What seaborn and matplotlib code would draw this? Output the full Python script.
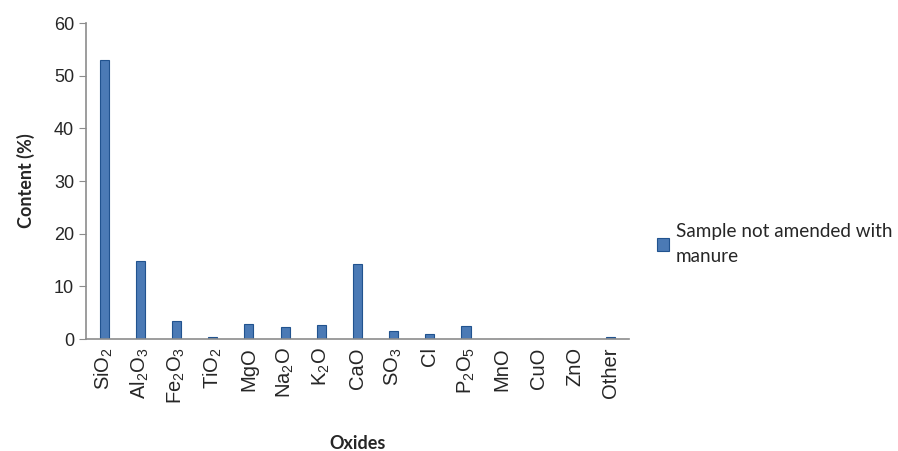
import numpy as np
import pandas as pd
import matplotlib
matplotlib.use("Agg")
import matplotlib.pyplot as plt
import seaborn as sns

oxides = ["SiO2", "Al2O3", "Fe2O3", "TiO2", "MgO", "Na2O", "K2O", "CaO",
          "SO3", "Cl", "P2O5", "MnO", "CuO", "ZnO", "Other"]
tick_labels = [r"SiO$_2$", r"Al$_2$O$_3$", r"Fe$_2$O$_3$", r"TiO$_2$", "MgO",
               r"Na$_2$O", r"K$_2$O", "CaO", r"SO$_3$", "Cl", r"P$_2$O$_5$",
               "MnO", "CuO", "ZnO", "Other"]
content = [52.9, 14.9, 3.4, 0.45, 2.85, 2.2, 2.6, 14.2, 1.5, 0.95, 2.5, 0, 0, 0, 0.3]
series_name = "Sample not amended with\nmanure"

df = pd.DataFrame({"oxide": oxides, "content": content, "series": series_name})

sns.set_style("white")
plt.rcParams["font.family"] = ["Liberation Sans", "DejaVu Sans"]
plt.rcParams["mathtext.fontset"] = "custom"
plt.rcParams["mathtext.rm"] = "Liberation Sans"
plt.rcParams["mathtext.it"] = "Liberation Sans"

fig = plt.figure(figsize=(8.98, 4.51), dpi=100)
ax = fig.add_axes([0.0958, 0.2483, 0.6045, 0.7005])

sns.barplot(data=df, x="oxide", y="content", hue="series", ax=ax,
            palette=["#3a78c6"], width=0.25, edgecolor="#21538f", linewidth=0.8)

ax.set_ylim(0, 60)
ax.set_yticks(range(0, 61, 10))
ax.set_xlim(-0.5, len(oxides) - 0.5)
ax.set_xticks(range(len(oxides)))
ax.set_xticklabels(tick_labels, rotation=90, fontsize=14.5)
ax.tick_params(axis="y", labelsize=13, length=5, color="#8c8c8c", direction="out", left=True)
ax.tick_params(axis="x", length=0, pad=6)

for s in ["top", "right"]:
    ax.spines[s].set_visible(False)
for s in ["left", "bottom"]:
    ax.spines[s].set_color("#8c8c8c")
    ax.spines[s].set_linewidth(1.2)

ax.set_ylabel("Content (%)", fontsize=13, fontweight="bold", family=["Lato", "DejaVu Sans"], labelpad=14)
ax.set_xlabel("Oxides", fontsize=13, fontweight="bold", family=["Lato", "DejaVu Sans"], labelpad=22)

leg = ax.legend(loc="center left", bbox_to_anchor=(1.02, 0.3), frameon=False,
                prop={"family": "Lato", "size": 13.6}, handlelength=0.65, handleheight=0.65,
                handletextpad=0.35)
for t in leg.get_texts():
    t.set_linespacing(1.6)

fig.savefig("out.png", dpi=100)
